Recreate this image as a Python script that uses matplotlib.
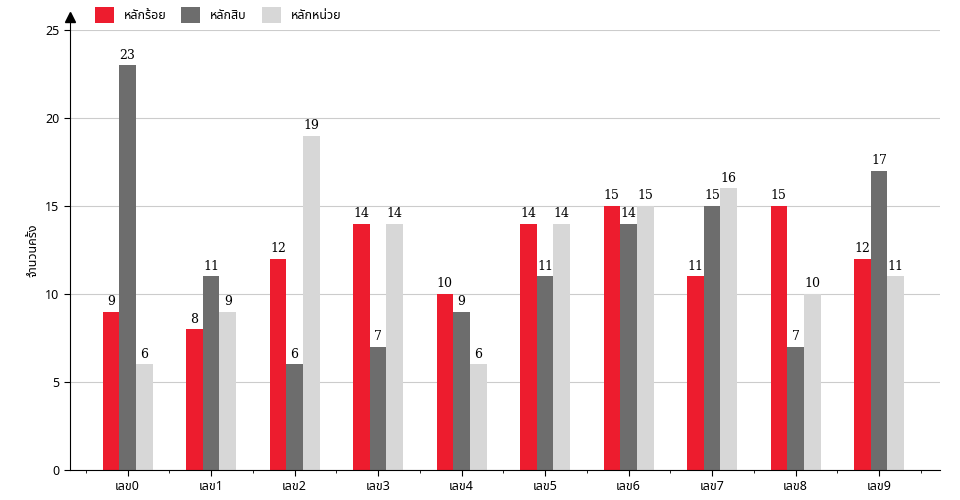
import matplotlib.pyplot as plt
import numpy as np

plt.rcParams['font.family'] = ['Noto Sans Thai', 'Noto Sans', 'DejaVu Sans']

categories = ['เลข0', 'เลข1', 'เลข2', 'เลข3', 'เลข4', 'เลข5', 'เลข6', 'เลข7', 'เลข8', 'เลข9']
hundreds = [9, 8, 12, 14, 10, 14, 15, 11, 15, 12]
tens = [23, 11, 6, 7, 9, 11, 14, 15, 7, 17]
units = [6, 9, 19, 14, 6, 14, 15, 16, 10, 11]
series = [('หลักร้อย', hundreds, '#ed1c2e'), ('หลักสิบ', tens, '#6d6d6d'), ('หลักหน่วย', units, '#d7d7d7')]

fig = plt.figure(figsize=(9.6, 5.0), dpi=100)
ax = fig.add_axes([70 / 960, 30 / 500, 870 / 960, 440 / 500])

x = np.arange(len(categories))
w = 0.2
for i, (name, vals, col) in enumerate(series):
    pos = x + (i - 1) * w
    ax.bar(pos, vals, w, color=col, label=name, zorder=2)
    for p, v in zip(pos, vals):
        ax.text(p, v + 0.2, str(v), ha='center', va='bottom', fontsize=9, family='DejaVu Serif')

ax.set_xlim(-0.69, 9.73)
ax.set_ylim(0, 25)
ax.set_yticks(range(0, 26, 5))
ax.set_xticks(x)
ax.set_xticklabels(categories, fontsize=9)
ax.set_xticks(np.arange(-0.5, 10, 1), minor=True)
ax.tick_params(axis='y', labelsize=9, length=4)
ax.tick_params(axis='x', length=4)
ax.grid(axis='y', color='#cccccc', linewidth=0.8, zorder=0)
for s in ['top', 'right']:
    ax.spines[s].set_visible(False)
ax.set_ylabel('จำนวนครั้ง', fontsize=9)
ax.plot(0, 1.03, '^', color='black', markersize=7, transform=ax.transAxes, clip_on=False)
ax.spines['left'].set_bounds(0, 25.7)

ax.legend(loc='lower left', bbox_to_anchor=(0.02, 1.0), ncol=3, frameon=False,
          fontsize=9, handlelength=1.5, handleheight=1.5, columnspacing=1.2, borderaxespad=0.2)

fig.savefig('out.png', dpi=100)
